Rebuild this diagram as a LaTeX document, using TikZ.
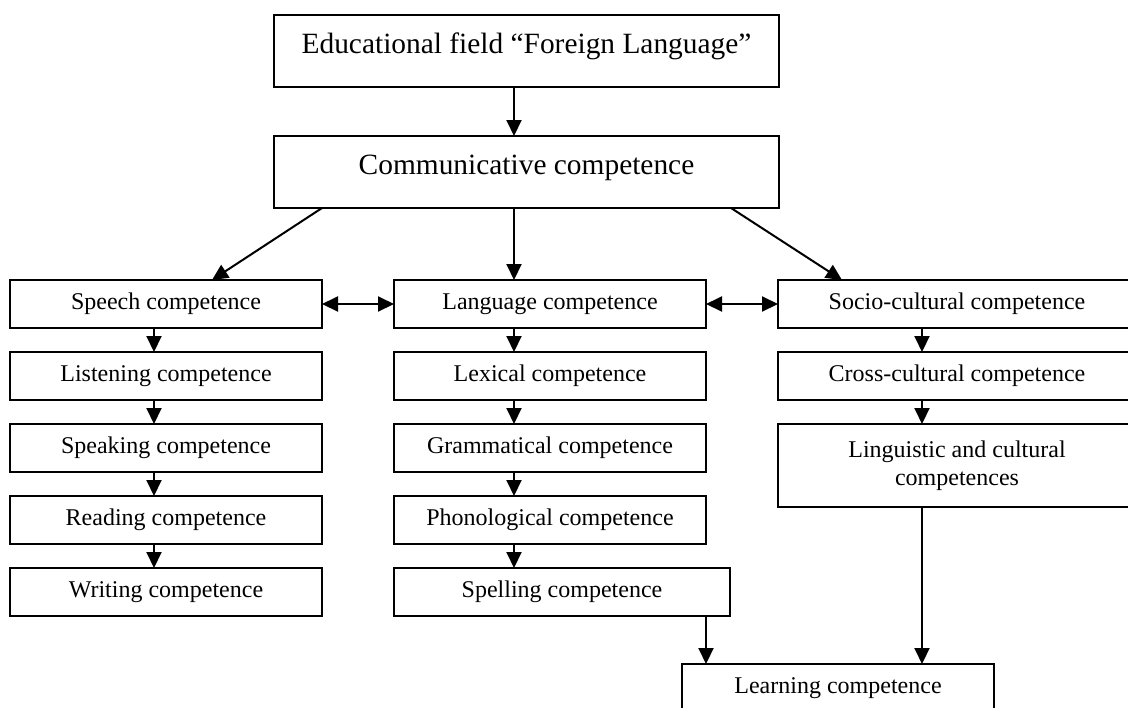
\documentclass[tikz,border=0pt]{standalone}
\usepackage{fontspec}
\setmainfont{Liberation Serif}
\usetikzlibrary{arrows.meta, calc, positioning}

\begin{document}
\begin{tikzpicture}[x=0.5pt, y=-0.5pt, >={Triangle[width=7.5pt,length=8pt]}]
        \tikzstyle{box}=[draw, line width=1pt, inner sep=0pt, outer sep=0pt, anchor=north west, minimum height=24pt, align=center, font=\fontsize{12}{14}\selectfont]
        \tikzstyle{bigbox}=[draw, line width=1pt, inner sep=0pt, outer sep=0pt, anchor=north west, minimum width=252.5pt, text height=19pt, text depth=17pt, font=\fontsize{14.7}{17}\selectfont]
        \tikzstyle{link}=[->, line width=1pt]

        \useasboundingbox (0,0) rectangle (1128,707);
        \clip (0,0) rectangle (1128,707);

        % Top of the scheme
        \node[bigbox] (field) at (274,15) {Educational field “Foreign Language”};
        \node[bigbox] (comm) at (274,136) {Communicative competence};

        % Speech column
        \node[box, minimum width=156pt] (speech) at (10,280) {Speech competence};
        \node[box, minimum width=156pt] (listen) at (10,352) {Listening competence};
        \node[box, minimum width=156pt] (speak) at (10,424) {Speaking competence};
        \node[box, minimum width=156pt] (read) at (10,496) {Reading competence};
        \node[box, minimum width=156pt] (write) at (10,568) {Writing competence};

        % Language column
        \node[box, minimum width=156pt] (lang) at (394,280) {Language competence};
        \node[box, minimum width=156pt] (lex) at (394,352) {Lexical competence};
        \node[box, minimum width=156pt] (gram) at (394,424) {Grammatical competence};
        \node[box, minimum width=156pt] (phon) at (394,496) {Phonological competence};
        \node[box, minimum width=168pt] (spell) at (394,568) {Spelling competence};

        % Socio-cultural column
        \node[box, minimum width=179pt] (socio) at (778,280) {Socio-cultural competence};
        \node[box, minimum width=179pt] (cross) at (778,352) {Cross-cultural competence};
        \node[box, minimum width=179pt, minimum height=41.5pt] (lingcult) at (778,424) {Linguistic and cultural\\competences};

        % Bottom
        \node[box, minimum width=156pt] (learn) at (682,664) {Learning competence};

        % Arrow axes
        \coordinate (axisA) at (154,0);
        \coordinate (axisB) at (514,0);
        \coordinate (axisC) at (922,0);
        \coordinate (axisD) at (706,0);

        \draw[link] (field.south -| axisB) -- (comm.north -| axisB);
        \draw[link] ($(comm.south west)+(48,0)$) -- ($(speech.north west)+(202,0)$);
        \draw[link] (comm.south -| axisB) -- (lang.north -| axisB);
        \draw[link] ($(comm.south east)+(-48,0)$) -- ($(socio.north west)+(64,0)$);
        \draw[<->, line width=1pt] (speech.east) -- (lang.west);
        \draw[<->, line width=1pt] (lang.east) -- (socio.west);

        \foreach \a/\b in {speech/listen, listen/speak, speak/read, read/write}
            \draw[link] (\a.south -| axisA) -- (\b.north -| axisA);
        \foreach \a/\b in {lang/lex, lex/gram, gram/phon, phon/spell}
            \draw[link] (\a.south -| axisB) -- (\b.north -| axisB);
        \foreach \a/\b in {socio/cross, cross/lingcult}
            \draw[link] (\a.south -| axisC) -- (\b.north -| axisC);

        \draw[link] (spell.south -| axisD) -- (learn.north -| axisD);
        \draw[link] (lingcult.south -| axisC) -- (learn.north -| axisC);
\end{tikzpicture}
\end{document}
